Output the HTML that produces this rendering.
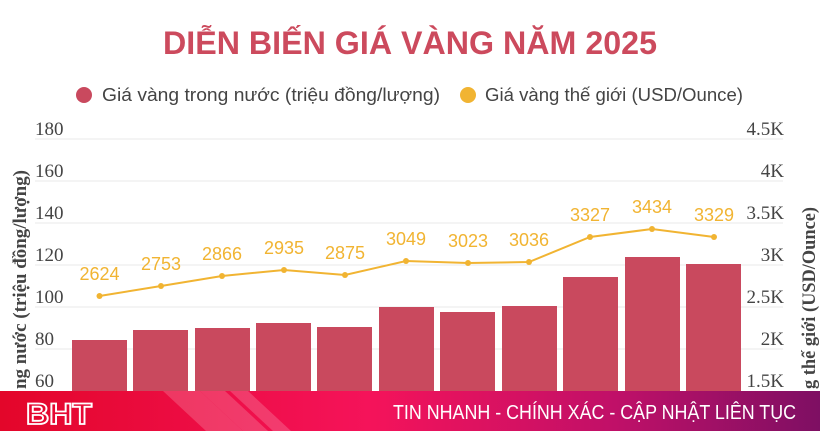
<!DOCTYPE html>
<html><head><meta charset="utf-8"><style>
html,body{margin:0;padding:0;width:820px;height:431px;overflow:hidden;background:#fff;font-family:"Liberation Sans",sans-serif;}
svg{display:block;}
</style></head><body>
<svg width="820" height="431" viewBox="0 0 820 431" xmlns="http://www.w3.org/2000/svg" font-family="Liberation Sans, sans-serif" overflow="hidden">
<defs>
<linearGradient id="bg" x1="0" x2="1" y1="0" y2="0">
<stop offset="0" stop-color="#e3062a"/><stop offset="0.45" stop-color="#f5135a"/><stop offset="0.75" stop-color="#c01068"/><stop offset="1" stop-color="#7e0f63"/>
</linearGradient>
</defs>
<text x="410" y="54" text-anchor="middle" font-size="32" font-weight="bold" fill="#cc4a5d" textLength="494" lengthAdjust="spacingAndGlyphs">DIỄN BIẾN GIÁ VÀNG NĂM 2025</text>
<circle cx="84" cy="95" r="8" fill="#c9495e"/>
<text x="102" y="101" font-size="18" fill="#444" textLength="338" lengthAdjust="spacingAndGlyphs">Giá vàng trong nước (triệu đồng/lượng)</text>
<circle cx="468" cy="95" r="8" fill="#f1b432"/>
<text x="485" y="101" font-size="18" fill="#444" textLength="258" lengthAdjust="spacingAndGlyphs">Giá vàng thế giới (USD/Ounce)</text>
<g stroke="#e8e8e8" stroke-width="1">
<line x1="35" x2="783" y1="139" y2="139"/><line x1="35" x2="783" y1="181" y2="181"/><line x1="35" x2="783" y1="223" y2="223"/><line x1="35" x2="783" y1="265" y2="265"/><line x1="35" x2="783" y1="307" y2="307"/><line x1="35" x2="783" y1="349" y2="349"/>
</g>
<g font-size="19" fill="#444" font-family="Liberation Serif, serif">
<text x="35" y="135">180</text><text x="35" y="177">160</text><text x="35" y="219">140</text><text x="35" y="261">120</text><text x="35" y="303">100</text><text x="35" y="345">80</text><text x="35" y="387">60</text>
</g>
<g font-size="19" fill="#444" font-family="Liberation Serif, serif" text-anchor="end">
<text x="784" y="135">4.5K</text><text x="784" y="177">4K</text><text x="784" y="219">3.5K</text><text x="784" y="261">3K</text><text x="784" y="303">2.5K</text><text x="784" y="345">2K</text><text x="784" y="387">1.5K</text>
</g>
<text transform="translate(26,389) rotate(-90)" font-size="19" font-weight="bold" fill="#444" font-family="Liberation Serif, serif" textLength="219" lengthAdjust="spacingAndGlyphs">ng nước (triệu đồng/lượng)</text>
<text transform="translate(815,389) rotate(-90)" font-size="19" font-weight="bold" fill="#444" font-family="Liberation Serif, serif" textLength="182" lengthAdjust="spacingAndGlyphs">g thế giới (USD/Ounce)</text>
<g fill="#c9495e">
<rect x="72" y="340" width="55" height="51"/><rect x="133" y="330" width="55" height="61"/><rect x="195" y="328" width="55" height="63"/><rect x="256" y="323" width="55" height="68"/><rect x="317" y="327" width="55" height="64"/><rect x="379" y="307" width="55" height="84"/><rect x="440" y="312" width="55" height="79"/><rect x="502" y="306" width="55" height="85"/><rect x="563" y="277" width="55" height="114"/><rect x="625" y="257" width="55" height="134"/><rect x="686" y="264" width="55" height="127"/>
</g>
<polyline fill="none" stroke="#f1b432" stroke-width="2" points="99.5,296 161,286 222,276 284,270 345,275 406,261 468,263 529,262 590,237 652,229 714,237"/>
<g fill="#f1b432">
<circle cx="99.5" cy="296" r="3"/><circle cx="161" cy="286" r="3"/><circle cx="222" cy="276" r="3"/><circle cx="284" cy="270" r="3"/><circle cx="345" cy="275" r="3"/><circle cx="406" cy="261" r="3"/><circle cx="468" cy="263" r="3"/><circle cx="529" cy="262" r="3"/><circle cx="590" cy="237" r="3"/><circle cx="652" cy="229" r="3"/><circle cx="714" cy="237" r="3"/>
</g>
<g font-size="18" fill="#f1b432" text-anchor="middle">
<text x="99.5" y="280">2624</text><text x="161" y="270">2753</text><text x="222" y="260">2866</text><text x="284" y="254">2935</text><text x="345" y="259">2875</text><text x="406" y="245">3049</text><text x="468" y="247">3023</text><text x="529" y="246">3036</text><text x="590" y="221">3327</text><text x="652" y="213">3434</text><text x="714" y="221">3329</text>
</g>
<rect x="0" y="391" width="820" height="40" fill="url(#bg)"/>
<g fill="#ffffff" opacity="0.18">
<polygon points="163,391 200,391 243,431 206,431"/><polygon points="200,391 225,391 268,431 243,431"/><polygon points="230,391 248,391 291,431 273,431"/>
</g>
<text x="26" y="424" font-size="30" font-weight="bold" fill="none" stroke="#fff" stroke-width="1.8" textLength="66" lengthAdjust="spacingAndGlyphs">BHT</text>
<text x="796" y="419" text-anchor="end" font-size="20" fill="#fff" textLength="403" lengthAdjust="spacingAndGlyphs">TIN NHANH - CHÍNH XÁC - CẬP NHẬT LIÊN TỤC</text>
</svg>
</body></html>
